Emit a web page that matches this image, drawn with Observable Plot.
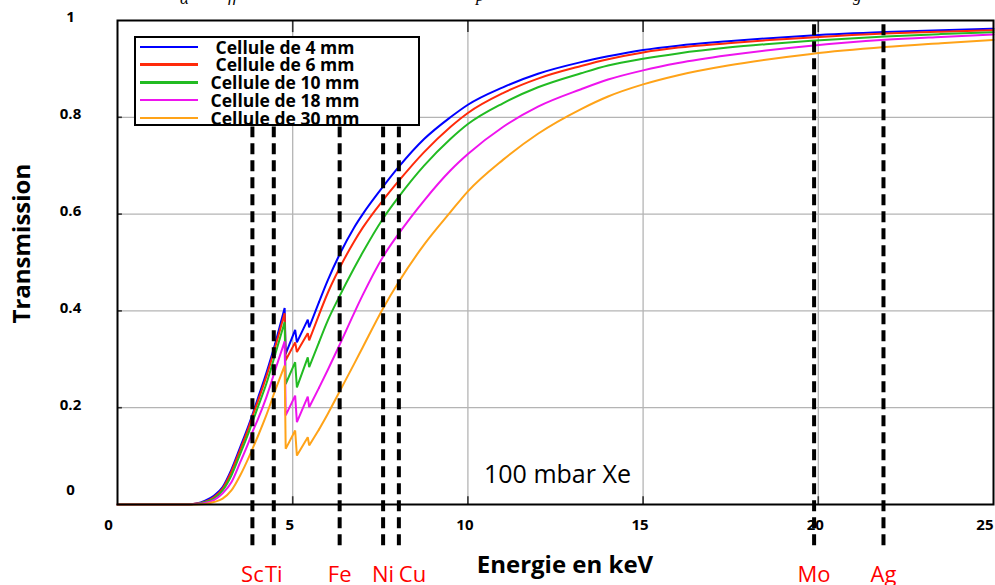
<!DOCTYPE html>
<html>
<head>
<meta charset="utf-8">
<script src="https://cdn.jsdelivr.net/npm/d3@7"></script>
<script src="https://cdn.jsdelivr.net/npm/@observablehq/plot@0.6"></script>
<style>
  html, body { margin: 0; padding: 0; background: #fff; }
  #wrap { position: relative; width: 995px; height: 585px; overflow: hidden; background: #fff; font-family: "Open Sans", sans-serif; }
  #chart { position: absolute; left: 0; top: 0; }
  #legend { position: absolute; left: 134px; top: 36px; width: 286px; height: 90px; box-sizing: border-box; border: 2px solid #000; background: #fff; }
  #legend .row { position: relative; height: 17.75px; }
  #legend .sw { position: absolute; left: 4px; top: 7.5px; width: 58px; height: 2.5px; }
  #legend .tx { position: absolute; left: 46px; width: 206px; text-align: center; top: 0.5px; font: bold 17.5px "Open Sans", sans-serif; line-height: 17.5px; color: #000; white-space: nowrap; }
  .cut { position: absolute; font: italic 17px "Liberation Serif", serif; color: #000; line-height: 17px; }
  g[aria-label="x-axis tick label"], g[aria-label="y-axis tick label"] { font-weight: bold; font-size: 15px; font-family: "Open Sans", sans-serif; }
</style>
</head>
<body>
<div id="wrap">
  <div id="chart"></div>
  <div id="legend"></div>
  <span class="cut" style="left:180px;top:-10px">α</span>
  <span class="cut" style="left:228px;top:-13px">ff</span>
  <span class="cut" style="left:476px;top:-13px">p</span>
  <span class="cut" style="left:853px;top:-13px">g</span>
</div>
<script>
// ---- data ----
const series = ["Cellule de 4 mm", "Cellule de 6 mm", "Cellule de 10 mm", "Cellule de 18 mm", "Cellule de 30 mm"];
const seriesColors = ["#0000ff", "#ff2a0a", "#22bb22", "#ee14ee", "#ffa318"];

const energies = [0, 2.0, 2.25, 2.5, 2.75, 3.0, 3.25, 3.5, 3.75, 3.87,
  4.0, 4.25, 4.5, 4.77, 4.80, 5.07, 5.12, 5.43, 5.47, 5.75,
  6.0, 6.32, 6.75, 7.0, 7.57, 8.02, 8.75, 9.5, 10, 11,
  12, 13.23, 14, 15, 16, 17.42, 18.5, 19.8, 21.9, 23.5, 25];

const t4mm = [0, 0, 0.002, 0.008, 0.018, 0.036, 0.072, 0.118, 0.165, 0.190,
  0.218, 0.272, 0.332, 0.406, 0.311, 0.361, 0.335, 0.382, 0.366, 0.418,
  0.463, 0.514, 0.572, 0.600, 0.656, 0.697, 0.755, 0.800, 0.826, 0.862,
  0.890, 0.914, 0.926, 0.939, 0.948, 0.957, 0.963, 0.969, 0.976, 0.980, 0.983];
const t6mm = [0, 0, 0.002, 0.006, 0.015, 0.033, 0.068, 0.113, 0.160, 0.186,
  0.212, 0.265, 0.325, 0.395, 0.298, 0.335, 0.315, 0.354, 0.339, 0.392,
  0.437, 0.486, 0.543, 0.572, 0.628, 0.668, 0.728, 0.780, 0.809, 0.850,
  0.880, 0.906, 0.920, 0.934, 0.944, 0.953, 0.959, 0.965, 0.973, 0.977, 0.980];
const t10mm = [0, 0, 0.001, 0.005, 0.012, 0.029, 0.060, 0.104, 0.150, 0.174,
  0.200, 0.250, 0.310, 0.377, 0.249, 0.294, 0.242, 0.304, 0.284, 0.335,
  0.380, 0.428, 0.488, 0.521, 0.590, 0.635, 0.700, 0.755, 0.786, 0.829,
  0.862, 0.891, 0.907, 0.921, 0.932, 0.944, 0.951, 0.958, 0.967, 0.972, 0.976];
const t18mm = [0, 0, 0.001, 0.003, 0.009, 0.023, 0.046, 0.087, 0.130, 0.153,
  0.175, 0.222, 0.278, 0.337, 0.184, 0.225, 0.170, 0.223, 0.201, 0.241,
  0.278, 0.327, 0.395, 0.433, 0.511, 0.559, 0.628, 0.690, 0.724, 0.780,
  0.822, 0.858, 0.878, 0.897, 0.912, 0.928, 0.938, 0.948, 0.960, 0.966, 0.971];
const t30mm = [0, 0, 0, 0.001, 0.005, 0.012, 0.029, 0.060, 0.098, 0.118,
  0.140, 0.185, 0.236, 0.287, 0.115, 0.153, 0.101, 0.139, 0.122, 0.155,
  0.187, 0.231, 0.290, 0.325, 0.404, 0.459, 0.537, 0.604, 0.647, 0.712,
  0.766, 0.817, 0.843, 0.868, 0.887, 0.907, 0.919, 0.931, 0.945, 0.953, 0.960];

const elementNames = ["Sc", "Ti", "Fe", "Ni", "Cu", "Mo", "Ag"];
const elementEnergies = [3.85, 4.46, 6.34, 7.58, 8.03, 19.88, 21.86];

const xTicks = [0, 5, 10, 15, 20, 25];
const yTicks = [0, 0.2, 0.4, 0.6, 0.8, 1];
const annotation = "100 mbar Xe";
const xTitle = "Energie en keV";
const yTitle = "Transmission";

// Xe L-edge stretch (sawtooth part drawn with straight segments)
const edgeStart = 4.5, edgeEnd = 5.75;

// ---- build tables ----
const curves = [t4mm, t6mm, t10mm, t18mm, t30mm];
const lineData = series.flatMap((s, i) => energies.map((e, j) => ({E: e, T: curves[i][j], s})));
const elements = elementNames.map((n, i) => ({name: n, E: elementEnergies[i]}));
const innerX = xTicks.slice(1, -1);
const innerY = yTicks.slice(1, -1);
const fmt = d => String(d);
const lowPart = lineData.filter(d => d.E <= edgeStart);
const edgePart = lineData.filter(d => d.E >= edgeStart && d.E <= edgeEnd);
const highPart = lineData.filter(d => d.E >= edgeEnd);

const plot = Plot.plot({
  width: 995,
  height: 585,
  marginLeft: 117,
  marginRight: 2,
  marginTop: 20,
  marginBottom: 81,
  style: {fontFamily: "Open Sans", background: "transparent", overflow: "visible"},
  x: {domain: [0, 25]},
  y: {domain: [0, 1]},
  color: {domain: series, range: seriesColors},
  marks: [
    Plot.ruleX(innerX, {stroke: "#b4b4b4", strokeWidth: 1.3}),
    Plot.ruleY(innerY, {stroke: "#b4b4b4", strokeWidth: 1.3}),
    Plot.ruleX(innerX, {y1: 0, y2: 0.016, stroke: "#333", strokeWidth: 1.6}),
    Plot.ruleX(innerX, {y1: 0.975, y2: 1, stroke: "#333", strokeWidth: 1.6}),
    Plot.ruleY(innerY, {x1: 0, x2: 0.14, stroke: "#333", strokeWidth: 1.6}),
    Plot.line(lowPart, {x: "E", y: "T", z: "s", stroke: "s", strokeWidth: 2, curve: "monotone-x"}),
    Plot.line(edgePart, {x: "E", y: "T", z: "s", stroke: "s", strokeWidth: 2, curve: "linear", strokeLinejoin: "miter"}),
    Plot.line(highPart, {x: "E", y: "T", z: "s", stroke: "s", strokeWidth: 2, curve: "monotone-x"}),
    Plot.frame({stroke: "#000", strokeWidth: 2}),
    Plot.ruleX(elements, {x: "E", y1: -0.085, y2: d => d.E > 15 ? 1 : 0.78, stroke: "#000", strokeWidth: 4, strokeDasharray: "11,6"}),
    Plot.axisX(xTicks.slice(0, 1), {tickSize: 0, tickPadding: 15, dx: -9, tickFormat: fmt, label: null}),
    Plot.axisX(innerX, {tickSize: 0, tickPadding: 15, dx: -3, tickFormat: fmt, label: null}),
    Plot.axisX(xTicks.slice(-1), {tickSize: 0, tickPadding: 15, textAnchor: "end", dx: 0, tickFormat: fmt, label: null}),
    Plot.axisY(yTicks.slice(0, 1), {tickSize: 0, tickPadding: 47, textAnchor: "middle", dy: -14, tickFormat: fmt, label: null}),
    Plot.axisY(yTicks.slice(1), {tickSize: 0, tickPadding: 47, textAnchor: "middle", dy: -3, tickFormat: fmt, label: null}),
    Plot.text(elements.filter(d => d.name !== "Cu"), {x: "E", y: 0, dy: 77, text: "name", lineAnchor: "bottom", fill: "#ff0000", fontSize: 22}),
    Plot.text(elements.filter(d => d.name === "Cu"), {x: "E", y: 0, dy: 77, text: "name", lineAnchor: "bottom", textAnchor: "start", fill: "#ff0000", fontSize: 22}),
    Plot.text([annotation], {x: 10.46, y: 0.045, text: d => d, textAnchor: "start", lineAnchor: "bottom", fontSize: 25, fill: "#000"}),
    Plot.text([xTitle], {x: 12.77, y: 0, dy: 68, text: d => d, lineAnchor: "bottom", fontSize: 24, fontWeight: "bold", fill: "#000"}),
    Plot.text([yTitle], {x: 0, y: 0.539, dx: -95, text: d => d, rotate: -90, fontSize: 24, fontWeight: "bold", fill: "#000"})
  ]
});
document.getElementById("chart").appendChild(plot);

// ---- legend ----
const legend = document.getElementById("legend");
series.forEach((s, i) => {
  const row = document.createElement("div");
  row.className = "row";
  const sw = document.createElement("div");
  sw.className = "sw";
  sw.style.background = seriesColors[i];
  const tx = document.createElement("div");
  tx.className = "tx";
  tx.textContent = s;
  row.appendChild(sw);
  row.appendChild(tx);
  legend.appendChild(row);
});
</script>
</body>
</html>
